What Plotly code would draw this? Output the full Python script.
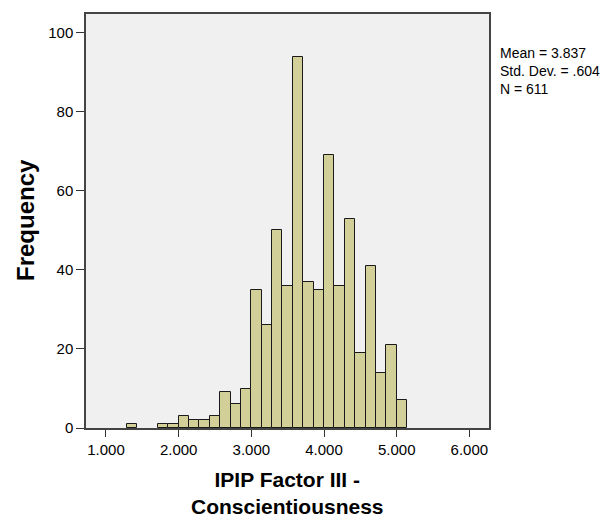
import plotly.graph_objects as go

bin_width = 1 / 7
bin_left_edges = [3 - 12 / 7, 3 - 9 / 7, 3 - 8 / 7, 3 - 7 / 7, 3 - 6 / 7, 3 - 5 / 7, 3 - 4 / 7,
                  3 - 3 / 7, 3 - 2 / 7, 3 - 1 / 7,
                  3 + 0 / 7, 3 + 1 / 7, 3 + 2 / 7, 3 + 3 / 7, 3 + 4 / 7, 3 + 5 / 7, 3 + 6 / 7,
                  3 + 7 / 7, 3 + 8 / 7, 3 + 9 / 7, 3 + 10 / 7, 3 + 11 / 7, 3 + 12 / 7,
                  3 + 13 / 7, 3 + 14 / 7]
counts = [1, 1, 1, 3, 2, 2, 3, 9, 6, 10,
          35, 26, 50, 36, 94, 37, 35, 69, 36, 53, 19, 41, 14, 21, 7]

x_tick_vals = [1, 2, 3, 4, 5, 6]
x_tick_text = ["1.000", "2.000", "3.000", "4.000", "5.000", "6.000"]
y_tick_vals = [0, 20, 40, 60, 80, 100]

x_title_lines = ["IPIP Factor III -", "Conscientiousness"]
y_title = "Frequency"
stats_lines = ["Mean = 3.837", "Std. Dev. = .604", "N = 611"]

centers = [e + bin_width / 2 for e in bin_left_edges]

fig = go.Figure(go.Bar(
    x=centers, y=counts, width=[bin_width] * len(counts),
    marker=dict(color="#D3CF98", line=dict(color="#1a1a1a", width=1)),
    hoverinfo="x+y",
))

font = "Liberation Sans, Arial, sans-serif"
L, R, T, B = 86, 126, 12, 91
W, H = 615, 519
pw, ph = W - L - R, H - T - B


def px_x(p):
    return (p - L) / pw


def px_y(p):
    return (H - B - p) / ph


annotations = [
    dict(text="<b>" + "<br>".join(x_title_lines) + "</b>", xref="paper", yref="paper",
         x=0.5, y=px_y(467), xanchor="center", yanchor="top", showarrow=False,
         align="center", borderpad=0,
         font=dict(size=21, family=font, color="black")),
    dict(text="<b>" + y_title + "</b>", xref="paper", yref="paper", x=px_x(25), y=px_y(219),
         xanchor="center", yanchor="middle", showarrow=False, textangle=-90,
         font=dict(size=24, family=font, color="black")),
    dict(text="<br>".join(stats_lines), xref="paper", yref="paper", x=px_x(499), y=px_y(42),
         xanchor="left", yanchor="top", showarrow=False, align="left", borderpad=0,
         font=dict(size=14, family=font, color="black")),
]

fig.update_layout(
    width=W, height=H,
    margin=dict(l=L, r=R, t=T, b=B),
    paper_bgcolor="white", plot_bgcolor="#F0F0F0",
    showlegend=False, bargap=0,
    font=dict(family=font, color="black", size=15),
    xaxis=dict(
        range=[0.725, 6.27], tickvals=x_tick_vals, ticktext=x_tick_text,
        ticks="outside", ticklen=7, tickcolor="#333", showgrid=False, zeroline=False,
        showline=True, linecolor="#444", linewidth=1.5, mirror=True,
        tickfont=dict(size=15, family=font),
    ),
    yaxis=dict(
        range=[0, 104.8], tickvals=y_tick_vals,
        ticks="outside", ticklen=8, tickcolor="#333", showgrid=False, zeroline=False,
        showline=True, linecolor="#444", linewidth=1.5, mirror=True,
        tickfont=dict(size=15, family=font),
    ),
    annotations=annotations,
)

fig.write_html("out.html")
